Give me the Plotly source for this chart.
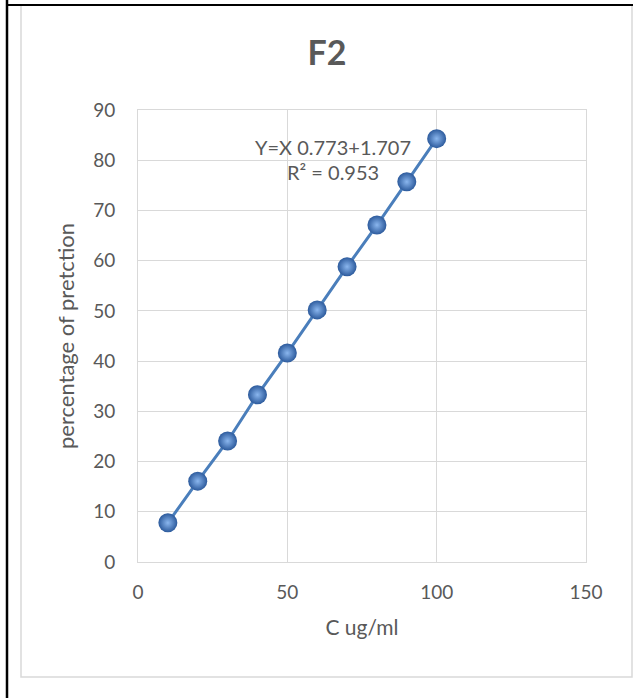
import plotly.graph_objects as go

# Concentration (ug/ml) and percentage of protection
conc = [10, 20, 30, 40, 50, 60, 70, 80, 90, 100]
protection = [7.8, 16.1, 24.1, 33.3, 41.6, 50.2, 58.8, 67.1, 75.7, 84.3]

x_ticks = [0, 50, 100, 150]
y_ticks = [0, 10, 20, 30, 40, 50, 60, 70, 80, 90]

title_text = "F2"
equation_text = "Y=X 0.773+1.707"
r2_text = "R² = 0.953"

W, H = 633, 698
ML, MR, MT, MB = 138, 47, 110, 136
PW, PH = W - ML - MR, H - MT - MB

def px(xp):
    return (xp - ML) / PW

def py(yp):
    return (H - MB - yp) / PH

grey = "#595959"
grid = "#D9D9D9"
font = "Lato, 'Open Sans', sans-serif"

fig = go.Figure()
fig.add_trace(go.Scatter(
    x=conc, y=protection, mode="lines+markers",
    line=dict(color="#4A7EBB", width=3),
    marker=dict(size=19, color="#2C5A9C",
                gradient=dict(type="radial", color="#8AB6EE"),
                line=dict(width=0)),
    showlegend=False, cliponaxis=False,
))

shapes = [
    # chart frame
    dict(type="rect", xref="paper", yref="paper",
         x0=px(21), x1=px(632), y0=py(677), y1=py(5),
         line=dict(color=grid, width=1.5), fillcolor="rgba(0,0,0,0)", layer="below"),
    # page rules
    dict(type="line", xref="paper", yref="paper",
         x0=px(7), x1=px(7), y0=py(0), y1=py(698),
         line=dict(color="black", width=2.5)),
    dict(type="line", xref="paper", yref="paper",
         x0=px(7), x1=px(633), y0=py(5), y1=py(5),
         line=dict(color="black", width=2)),
]

fig.update_layout(
    width=W, height=H,
    margin=dict(l=ML, r=MR, t=MT, b=MB),
    paper_bgcolor="white", plot_bgcolor="white",
    font=dict(family=font, color=grey, size=19),
    title=dict(text="<b>" + title_text + "</b>", x=327 / W, xref="container",
               xanchor="center", y=1 - 53 / H, yanchor="middle",
               font=dict(size=34, color=grey, family=font)),
    shapes=shapes,
    annotations=[
        dict(text=equation_text, xref="paper", yref="paper",
             x=px(413), y=py(147), xanchor="right", yanchor="middle",
             showarrow=False, font=dict(size=20, color=grey)),
        dict(text=r2_text, xref="paper", yref="paper",
             x=px(381), y=py(172), xanchor="right", yanchor="middle",
             showarrow=False, font=dict(size=20, color=grey)),
    ],
    xaxis=dict(range=[0, 150], tickvals=x_ticks, showgrid=True, gridcolor=grid,
               gridwidth=1, showline=True, linecolor=grid, mirror=True,
               zeroline=False, ticks="", ticklabelstandoff=13,
               tickfont=dict(size=19, color=grey),
               title=dict(text="C ug/ml", standoff=18,
                          font=dict(size=21, color=grey))),
    yaxis=dict(range=[0, 90], tickvals=y_ticks, showgrid=True, gridcolor=grid,
               gridwidth=1, showline=True, linecolor=grid, mirror=True,
               zeroline=False, ticks="", ticklabelstandoff=18,
               tickfont=dict(size=19, color=grey),
               title=dict(text="percentage of pretction", standoff=12,
                          font=dict(size=22, color=grey))),
)

fig.write_html("out.html")
